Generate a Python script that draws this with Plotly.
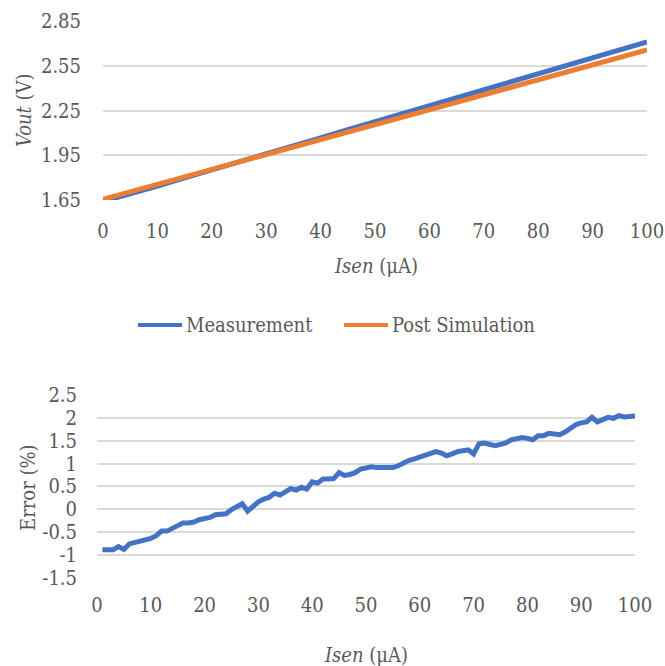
import plotly.graph_objects as go

# ---------------- data ----------------
isen_top = [0, 5, 10, 15, 20, 25, 30, 35, 40, 45, 50, 55, 60, 65, 70, 75, 80, 85, 90, 95, 100]
vout_measurement = [1.640, 1.690, 1.744, 1.799, 1.851, 1.905, 1.958, 2.013, 2.067, 2.122, 2.176,
                    2.226, 2.282, 2.333, 2.385, 2.440, 2.494, 2.547, 2.604, 2.658, 2.710]
vout_post_sim = [1.655, 1.705, 1.755, 1.805, 1.855, 1.905, 1.955, 2.005, 2.055, 2.105, 2.156,
                 2.206, 2.256, 2.306, 2.356, 2.406, 2.456, 2.506, 2.556, 2.606, 2.656]

isen_err = list(range(1, 101))
error_pct = [-0.89, -0.89, -0.89, -0.82, -0.88, -0.76, -0.73, -0.69, -0.66, -0.64,
             -0.58, -0.48, -0.48, -0.42, -0.34, -0.30, -0.30, -0.28, -0.23, -0.20,
             -0.18, -0.12, -0.11, -0.10, -0.01, 0.06, 0.12, -0.04, 0.06, 0.16,
             0.22, 0.26, 0.35, 0.31, 0.38, 0.45, 0.42, 0.48, 0.44, 0.60,
             0.57, 0.66, 0.66, 0.67, 0.80, 0.74, 0.76, 0.80, 0.88, 0.91,
             0.93, 0.91, 0.91, 0.89, 0.91, 0.95, 1.02, 1.07, 1.10, 1.14,
             1.18, 1.23, 1.26, 1.23, 1.17, 1.21, 1.26, 1.28, 1.30, 1.21,
             1.43, 1.45, 1.42, 1.39, 1.42, 1.45, 1.52, 1.55, 1.57, 1.55,
             1.52, 1.61, 1.61, 1.66, 1.65, 1.63, 1.69, 1.77, 1.85, 1.89,
             1.91, 2.01, 1.91, 1.96, 2.01, 1.99, 2.05, 2.02, 2.02, 2.04]

x_ticks = [0, 10, 20, 30, 40, 50, 60, 70, 80, 90, 100]
vout_ticks = [1.65, 1.95, 2.25, 2.55, 2.85]
vout_tick_labels = ["1.65", "1.95", "2.25", "2.55", "2.85"]
err_ticks = [-1.5, -1, -0.5, 0, 0.5, 1, 1.5, 2, 2.5]
err_tick_labels = ["-1.5", "-1", "-0.5", "0", "0.5", "1", "1.5", "2", "2.5"]
legend_names = ["Measurement", "Post Simulation"]

# ---------------- style ----------------
BLUE = "#4472C4"
ORANGE = "#ED7D31"
GRID = "#D9D9D9"
TEXT = "#595959"
FONT = "DejaVu Serif Condensed, Liberation Serif, serif"
FS = 20
W, H = 665, 666

def px_x(v):
    return v / W

def px_y(v):
    return 1 - v / H

fig = go.Figure()
fig.add_trace(go.Scatter(x=isen_top, y=vout_measurement, mode="lines", name=legend_names[0],
                         line=dict(color=BLUE, width=5), xaxis="x", yaxis="y", showlegend=False))
fig.add_trace(go.Scatter(x=isen_top, y=vout_post_sim, mode="lines", name=legend_names[1],
                         line=dict(color=ORANGE, width=5), xaxis="x", yaxis="y", showlegend=False))
fig.add_trace(go.Scatter(x=isen_err, y=error_pct, mode="lines", name="Error",
                         line=dict(color=BLUE, width=5), showlegend=False,
                         xaxis="x2", yaxis="y2"))

axis_common = dict(showline=False, zeroline=False, ticks="", color=TEXT, automargin=False,
                   ticklabeloverflow="allow",
                   tickfont=dict(family=FONT, size=FS, color=TEXT))

# manual legend (line samples + labels) between the two panels
legend_y = 325
shapes = [
    dict(type="line", xref="paper", yref="paper", x0=px_x(138), x1=px_x(182),
         y0=px_y(legend_y), y1=px_y(legend_y), line=dict(color=BLUE, width=4)),
    dict(type="line", xref="paper", yref="paper", x0=px_x(344), x1=px_x(388),
         y0=px_y(legend_y), y1=px_y(legend_y), line=dict(color=ORANGE, width=4)),
]

annotations = [
    dict(text=legend_names[0], x=px_x(184), y=px_y(legend_y), xref="paper", yref="paper",
         showarrow=False, xanchor="left", yanchor="middle",
         font=dict(family=FONT, size=FS, color=TEXT)),
    dict(text=legend_names[1], x=px_x(390), y=px_y(legend_y), xref="paper", yref="paper",
         showarrow=False, xanchor="left", yanchor="middle",
         font=dict(family=FONT, size=FS, color=TEXT)),
    dict(text="<i>Isen</i> (μA)", x=px_x(376), y=px_y(266), xref="paper", yref="paper",
         showarrow=False, xanchor="center", yanchor="middle",
         font=dict(family=FONT, size=FS, color=TEXT)),
    dict(text="<i>Vout</i> (V)", x=px_x(24), y=px_y(110), xref="paper", yref="paper",
         showarrow=False, xanchor="center", yanchor="middle", textangle=-90,
         font=dict(family=FONT, size=FS, color=TEXT)),
    dict(text="<i>Isen</i> (μA)", x=px_x(366), y=px_y(655), xref="paper", yref="paper",
         showarrow=False, xanchor="center", yanchor="middle",
         font=dict(family=FONT, size=FS, color=TEXT)),
    dict(text="Error (%)", x=px_x(28), y=px_y(488), xref="paper", yref="paper",
         showarrow=False, xanchor="center", yanchor="middle", textangle=-90,
         font=dict(family=FONT, size=FS, color=TEXT)),
]

fig.update_layout(
    template="none",
    width=W, height=H,
    margin=dict(l=0, r=0, t=0, b=0),
    paper_bgcolor="white", plot_bgcolor="white",
    font=dict(family=FONT, color=TEXT, size=FS),
    showlegend=False,
    hovermode=False,
    xaxis=dict(domain=[px_x(103), px_x(647)], range=[0, 100], tickvals=x_ticks,
               showgrid=False, anchor="y", ticklabelstandoff=17, **axis_common),
    yaxis=dict(domain=[px_y(200), px_y(21)], range=[1.65, 2.85], tickvals=vout_ticks,
               ticktext=vout_tick_labels, showgrid=True, gridcolor=GRID, gridwidth=2,
               anchor="x", ticklabelstandoff=21, **axis_common),
    xaxis2=dict(domain=[px_x(97), px_x(635)], range=[0, 100], tickvals=x_ticks,
                showgrid=False, anchor="y2", ticklabelstandoff=13, **axis_common),
    yaxis2=dict(domain=[px_y(577.7), px_y(395)], range=[-1.5, 2.5], tickvals=err_ticks,
                ticktext=err_tick_labels, showgrid=True, gridcolor=GRID, gridwidth=2,
                anchor="x2", ticklabelstandoff=19, **axis_common),
    shapes=shapes,
    annotations=annotations,
)

fig.write_html("out.html", config={"displayModeBar": False, "staticPlot": True},
               post_script="document.body.style.margin='0';")
